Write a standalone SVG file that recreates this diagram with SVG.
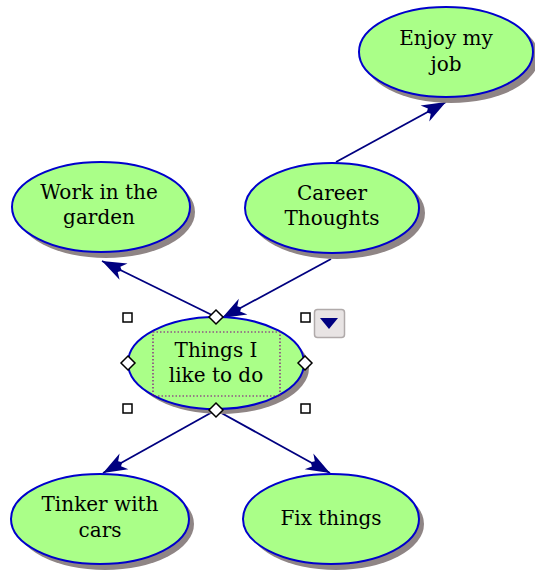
<svg xmlns="http://www.w3.org/2000/svg" width="535" height="570" viewBox="0 0 535 570">
<style>
.shadow{fill:#8f8585;}
.node{fill:#aaff88;stroke:#0000cc;stroke-width:2;}
.lbl{font-family:"DejaVu Serif","Liberation Serif",serif;font-size:20px;fill:#000;text-anchor:middle;}
.conn{stroke:#000080;stroke-width:1.8;fill:none;marker-end:url(#arr);}
.handle{fill:#fff;stroke:#000;stroke-width:1.5;}
</style>
<defs>
<marker id="arr" markerUnits="userSpaceOnUse" markerWidth="30" markerHeight="24" refX="0" refY="0" viewBox="-26 -12 28 24" orient="auto">
<path d="M0,0 L-24,-9 L-19,-3 L-22,0 L-19,3 L-24,9 Z" fill="#000080"/>
</marker>
</defs>
<rect width="535" height="570" fill="#fff"/>
<g id="connectors">
<line class="conn" x1="216" y1="317" x2="102" y2="261"/>
<line class="conn" x1="331" y1="259" x2="222" y2="318"/>
<line class="conn" x1="336" y1="162" x2="446" y2="102"/>
<line class="conn" x1="216" y1="410" x2="103" y2="473"/>
<line class="conn" x1="216" y1="410" x2="330" y2="473"/>
</g>
<g id="enjoy">
<ellipse class="shadow" cx="451" cy="57" rx="88" ry="46"/>
<ellipse class="node" cx="446" cy="52" rx="87" ry="45"/>
<text class="lbl" x="446" y="45">Enjoy my</text>
<text class="lbl" x="446" y="71">job</text>
</g>
<g id="career">
<ellipse class="shadow" cx="337" cy="213" rx="88" ry="46"/>
<ellipse class="node" cx="332" cy="208" rx="87" ry="45"/>
<text class="lbl" x="332" y="200">Career</text>
<text class="lbl" x="332" y="225">Thoughts</text>
</g>
<g id="garden">
<ellipse class="shadow" cx="106" cy="212" rx="89" ry="46"/>
<ellipse class="node" cx="101" cy="207" rx="89" ry="45"/>
<text class="lbl" x="99" y="199">Work in the</text>
<text class="lbl" x="99" y="224">garden</text>
</g>
<g id="things">
<ellipse class="shadow" cx="221" cy="368" rx="88" ry="46"/>
<ellipse class="node" cx="216" cy="363" rx="88" ry="46"/>
<rect x="153" y="332" width="127" height="64" fill="none" stroke="#800080" stroke-width="1.2" stroke-dasharray="1.5,2"/>
<text class="lbl" x="216" y="357">Things I</text>
<text class="lbl" x="216" y="382">like to do</text>
</g>
<g id="tinker">
<ellipse class="shadow" cx="105" cy="524" rx="89" ry="46"/>
<ellipse class="node" cx="100" cy="519" rx="89" ry="45"/>
<text class="lbl" x="100" y="511">Tinker with</text>
<text class="lbl" x="100" y="537">cars</text>
</g>
<g id="fix">
<ellipse class="shadow" cx="336" cy="524" rx="88" ry="46"/>
<ellipse class="node" cx="331" cy="519" rx="88" ry="45"/>
<text class="lbl" x="331" y="525">Fix things</text>
</g>
<g id="selection">
<rect class="handle" x="123" y="313" width="9" height="9"/>
<rect class="handle" x="301" y="313" width="9" height="9"/>
<rect class="handle" x="123" y="404" width="9" height="9"/>
<rect class="handle" x="301" y="404" width="9" height="9"/>
<path class="handle" d="M216,310 L223,317 L216,324 L209,317 Z"/>
<path class="handle" d="M216,403 L223,410 L216,417 L209,410 Z"/>
<path class="handle" d="M128,356 L135,363 L128,370 L121,363 Z"/>
<path class="handle" d="M305,356 L312,363 L305,370 L298,363 Z"/>
<rect x="314.5" y="309.5" width="30" height="28" rx="3" fill="#e8e4e4" stroke="#b0aaaa" stroke-width="1.5"/>
<path d="M320,318 L338,318 L329,329 Z" fill="#000080"/>
</g>
</svg>
